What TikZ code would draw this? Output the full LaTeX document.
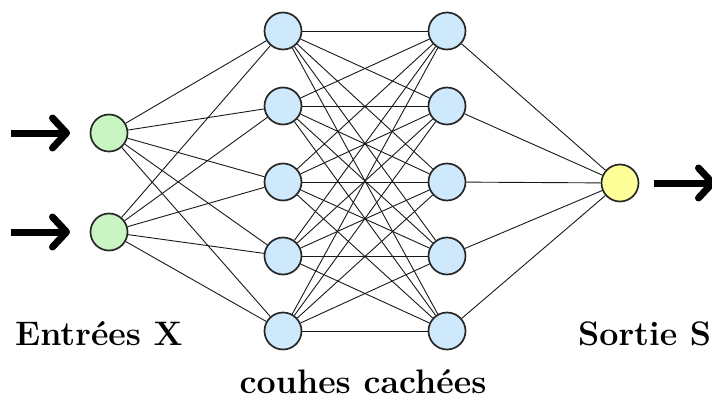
\documentclass[tikz,border=0pt]{standalone}
\usetikzlibrary{arrows.meta}
\definecolor{ingreen}{HTML}{C8F5C2}
\definecolor{hidblue}{HTML}{CDE9FB}
\definecolor{outyel}{HTML}{FFFF9A}
\tikzset{
  neuron/.style={circle,draw=black!85,line width=1.7pt,minimum size=37pt,inner sep=0pt},
  inneuron/.style={neuron,fill=ingreen},
  hidneuron/.style={neuron,fill=hidblue},
  outneuron/.style={neuron,fill=outyel},
  link/.style={line width=0.9pt,black!90},
  bigarrow/.style={line width=7pt,-{Straight Barb[length=14pt,width=30pt,line width=7pt,round]}},
  lbl/.style={font=\fontsize{34}{38}\selectfont\bfseries,inner sep=0pt,anchor=base west}
}
\begin{document}
\begin{tikzpicture}[x=1pt,y=-1pt]
\useasboundingbox (0,0) rectangle (712,399);
\foreach \i/\y in {1/133,2/232} \node[inneuron] (i\i) at (109,\y) {};
\foreach \i/\y in {1/31,2/106,3/182,4/256,5/331} {
  \node[hidneuron] (a\i) at (283,\y) {};
  \node[hidneuron] (b\i) at (447,\y) {};
}
\node[outneuron] (o) at (620,183) {};
\foreach \i in {1,2} \foreach \j in {1,...,5} \draw[link] (i\i) -- (a\j);
\foreach \i in {1,...,5} \foreach \j in {1,...,5} \draw[link] (a\i) -- (b\j);
\foreach \j in {1,...,5} \draw[link] (b\j) -- (o);
\coordinate (s1) at (11,133);
\coordinate (s2) at (11,232);
\coordinate (t1) at (70,133);
\coordinate (t2) at (70,232);
\coordinate (r0) at (654,183);
\coordinate (e) at (716,183);
\draw[bigarrow] (s1) -- (t1);
\draw[bigarrow] (s2) -- (t2);
\draw[bigarrow] (r0) -- (e);
\node[lbl] (tx) at (15,345) {Entrées X};
\node[lbl] (ts) at (578,345) {Sortie S};
\node[lbl,anchor=base] (tc) at (363,393) {couhes cachées};
\end{tikzpicture}
\end{document}
